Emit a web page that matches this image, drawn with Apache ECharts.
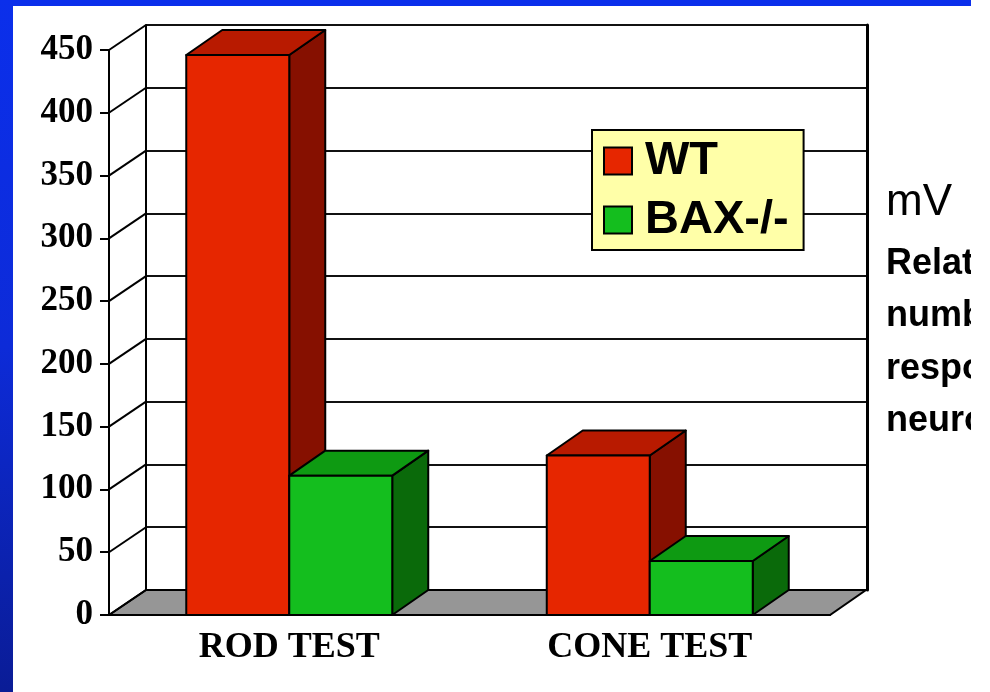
<!DOCTYPE html>
<html>
<head>
<meta charset="utf-8">
<script src="https://cdn.jsdelivr.net/npm/echarts@6/dist/echarts.min.js"></script>
<style>
  html, body { margin: 0; padding: 0; background: #fff; }
  #chart { width: 990px; height: 692px; }
</style>
</head>
<body>
<div id="chart"></div>
<script>
// data
var categories = ['ROD TEST', 'CONE TEST'];
var wtValues = [446, 127];
var baxValues = [111, 43];
var yTicks = [0, 50, 100, 150, 200, 250, 300, 350, 400, 450];
var sideNotes = ['Relative', 'number of', 'responding', 'neurons'];

var chart = echarts.init(document.getElementById('chart'));

// depth of the 3d look, in px
var DX = 37, DY = -25;
var BDX = 36, BDY = -25;
var serif = 'Liberation Serif';
var sans = 'Liberation Sans';

function barRenderer(colors, side) {
  return function (params, api) {
    var cat = api.value(0), val = api.value(1);
    var base = api.coord([cat, 0]);
    var top = api.coord([cat, val]);
    var band = api.size([1, 0])[0];
    var w = band * 0.2857;
    var x0 = side === 'left' ? base[0] - w : base[0];
    var x1 = x0 + w;
    var yb = base[1], yt = top[1];
    var line = { stroke: '#000', lineWidth: 2, lineJoin: 'round' };
    return {
      type: 'group',
      children: [
        { type: 'polygon', shape: { points: [[x1, yt], [x1 + BDX, yt + BDY], [x1 + BDX, yb + BDY], [x1, yb]] },
          style: Object.assign({ fill: colors[2] }, line) },
        { type: 'polygon', shape: { points: [[x0, yt], [x0 + BDX, yt + BDY], [x1 + BDX, yt + BDY], [x1, yt]] },
          style: Object.assign({ fill: colors[1] }, line) },
        { type: 'rect', shape: { x: x0, y: yt, width: w, height: yb - yt },
          style: Object.assign({ fill: colors[0] }, line) }
      ]
    };
  };
}

var red = ['#E62600', '#B81A00', '#861000'];
var green = ['#14BE1E', '#0E9A12', '#0A6A0A'];

var option = {
  backgroundColor: '#fff',
  animation: false,
  grid: [
    { left: 109, top: 50, width: 721, height: 565 },
    { left: 109 + DX, top: 50 + DY, width: 721, height: 565 }
  ],
  xAxis: [
    {
      type: 'category', gridIndex: 0, data: categories,
      axisLine: { lineStyle: { color: '#000', width: 2 } },
      axisTick: { length: 9, lineStyle: { color: '#000', width: 2 } },
      axisLabel: { margin: 15, color: '#000', fontFamily: serif, fontWeight: 'bold', fontSize: 36 }
    },
    {
      type: 'category', gridIndex: 1, data: categories,
      axisLine: { show: false }, axisTick: { show: false }, axisLabel: { show: false }
    }
  ],
  yAxis: [
    {
      type: 'value', gridIndex: 0, min: 0, max: 450, interval: 50,
      axisLine: { show: true, lineStyle: { color: '#000', width: 2 } },
      axisTick: { show: true, length: 9, lineStyle: { color: '#000', width: 2 } },
      splitLine: { show: false },
      axisLabel: { margin: 16, color: '#000', fontFamily: serif, fontWeight: 'bold', fontSize: 35 }
    },
    {
      type: 'value', gridIndex: 1, min: 0, max: 450, interval: 50,
      axisLine: { show: true, lineStyle: { color: '#000', width: 2 } },
      axisTick: { show: false }, axisLabel: { show: false },
      splitLine: { show: true, lineStyle: { color: '#111', width: 2 } }
    },
    {
      type: 'value', gridIndex: 1, min: 0, max: 450, interval: 50, position: 'right',
      axisLine: { show: true, lineStyle: { color: '#000', width: 3 } },
      axisTick: { show: false }, axisLabel: { show: false }, splitLine: { show: false }
    }
  ],
  legend: {
    left: 592, top: 130, orient: 'vertical',
    backgroundColor: '#FFFFA8', borderColor: '#000', borderWidth: 2,
    padding: [6, 15, 5, 11], itemWidth: 28, itemHeight: 27, itemGap: 9,
    textStyle: { fontFamily: sans, fontWeight: 'bold', fontSize: 47, color: '#000', lineHeight: 50, padding: [0, 0, 0, 8] },
    data: [
      { name: 'WT', icon: 'rect', itemStyle: { color: red[0], borderColor: '#000', borderWidth: 2 } },
      { name: 'BAX-/-', icon: 'rect', itemStyle: { color: green[0], borderColor: '#000', borderWidth: 2 } }
    ]
  },
  series: [
    {
      // floor
      type: 'custom', xAxisIndex: 0, yAxisIndex: 0, silent: true, z: 1,
      data: [[0, 0]],
      renderItem: function (params, api) {
        var cs = params.coordSys;
        var y = api.coord([0, 0])[1];
        var xl = cs.x, xr = cs.x + cs.width;
        return {
          type: 'polygon',
          shape: { points: [[xl, y], [xl + DX, y + DY], [xr + DX - 1, y + DY], [xr, y]] },
          style: { fill: '#969696', stroke: '#000', lineWidth: 2 }
        };
      }
    },
    {
      // diagonal tick connectors on the side wall
      type: 'custom', xAxisIndex: 0, yAxisIndex: 0, silent: true, z: 2,
      data: yTicks.map(function (v) { return [0, v]; }),
      renderItem: function (params, api) {
        var x = params.coordSys.x;
        var y = api.coord([0, api.value(1)])[1];
        return {
          type: 'line',
          shape: { x1: x, y1: y, x2: x + DX, y2: y + DY },
          style: { stroke: '#000', lineWidth: 2 }
        };
      }
    },
    {
      name: 'WT', type: 'custom', xAxisIndex: 0, yAxisIndex: 0, z: 3,
      itemStyle: { color: red[0] },
      data: wtValues.map(function (v, i) { return [i, v]; }),
      renderItem: barRenderer(red, 'left')
    },
    {
      name: 'BAX-/-', type: 'custom', xAxisIndex: 0, yAxisIndex: 0, z: 3,
      itemStyle: { color: green[0] },
      data: baxValues.map(function (v, i) { return [i, v]; }),
      renderItem: barRenderer(green, 'right')
    }
  ],
  graphic: [
    { type: 'text', left: 886, top: 181, style: { text: 'mV', font: '44px "Liberation Sans"', fill: '#000' } },
    { type: 'text', left: 886, top: 246, style: { text: sideNotes[0], font: 'bold 36px "Liberation Sans"', fill: '#000' } },
    { type: 'text', left: 886, top: 298, style: { text: sideNotes[1], font: 'bold 36px "Liberation Sans"', fill: '#000' } },
    { type: 'text', left: 886, top: 351, style: { text: sideNotes[2], font: 'bold 36px "Liberation Sans"', fill: '#000' } },
    { type: 'text', left: 886, top: 403, style: { text: sideNotes[3], font: 'bold 36px "Liberation Sans"', fill: '#000' } },
    // slide edge: right strip is cut off
    { type: 'rect', z: 100, shape: { x: 971, y: 0, width: 19, height: 692 }, style: { fill: '#fff' } },
    {
      type: 'rect', z: 101, shape: { x: 0, y: 0, width: 971, height: 6 },
      style: { fill: '#0B2FEB' }
    },
    {
      type: 'rect', z: 101, shape: { x: 0, y: 0, width: 13, height: 692 },
      style: {
        fill: new echarts.graphic.LinearGradient(0, 0, 0, 1, [
          { offset: 0, color: '#0B2FEB' },
          { offset: 0.5, color: '#0D2BD8' },
          { offset: 1, color: '#0A1C96' }
        ])
      }
    }
  ]
};

chart.setOption(option);
</script>
</body>
</html>
